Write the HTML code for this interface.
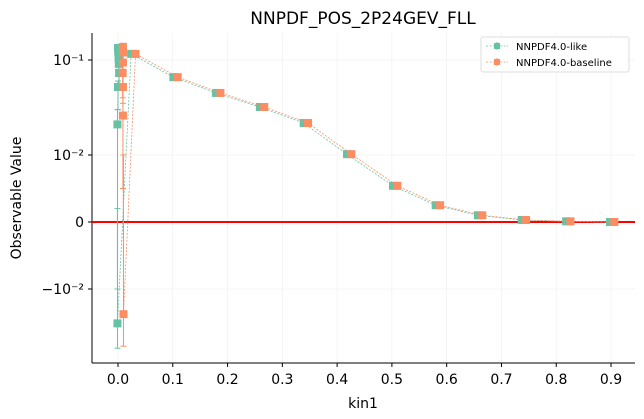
<!DOCTYPE html>
<html><head><meta charset="utf-8"><style>
body{margin:0;background:#fff;}
svg{display:block;font-family:"DejaVu Sans","Liberation Sans",sans-serif;}
</style></head><body>
<svg id="chart" width="644" height="419">
<text x="363" y="24" font-size="17" text-anchor="middle">NNPDF_POS_2P24GEV_FLL</text>
<g id="grid"></g><g id="axes"></g><g id="series"></g>
<text x="363" y="408" font-size="14" text-anchor="middle">kin1</text>
<text transform="translate(21,198) rotate(-90)" font-size="14" text-anchor="middle">Observable Value</text>
<g>
<rect x="481" y="37" width="148" height="35" fill="#fff" stroke="#ddd" rx="2"/>
<g>
<line x1="486" y1="46" x2="508" y2="46" stroke="#66c2a5" stroke-dasharray="2,1.5" stroke-width="0.8"/>
<line x1="497" y1="42" x2="497" y2="50" stroke="#66c2a5"/><rect x="494" y="43" width="6" height="6" fill="#66c2a5"/>
<text x="516" y="50" font-size="10">NNPDF4.0-like</text></g>
<g>
<line x1="486" y1="62" x2="508" y2="62" stroke="#fc8d62" stroke-dasharray="2,1.5" stroke-width="0.8"/>
<line x1="497" y1="58" x2="497" y2="66" stroke="#fc8d62"/><rect x="494" y="59" width="6" height="6" fill="#fc8d62"/>
<text x="516" y="66" font-size="10">NNPDF4.0-baseline</text></g>
</g>
</svg>
<script>
const likeX=[0.0,0.0005,0.001,0.0015,0.002,0.0,-0.001,-0.001,0.024,0.101,0.179,0.259,0.339,0.418,0.502,0.580,0.657,0.737,0.818,0.898];
const likeY=[0.134,0.121,0.105,0.091,0.073,0.052,0.021,-0.023,0.116,0.066,0.045,0.032,0.0217,0.0102,0.0054,0.0025,0.001,0.0003,0.0001,0.0];
const likeLo=[0.12,0.11,0.09,0.07,0.05,0.03,-0.01,-0.042,0.11,0.064,0.044,0.031,0.021,0.0099,0.0053,0.0024,0.001,0.0003,0.0001,0.0];
const likeHi=[0.14,0.13,0.11,0.1,0.08,0.06,0.03,0.002,0.12,0.068,0.046,0.033,0.022,0.0105,0.0055,0.0026,0.001,0.0003,0.0001,0.0];
const baseX=[0.009,0.0095,0.009,0.0085,0.009,0.009,0.01,0.032,0.109,0.187,0.267,0.347,0.426,0.510,0.588,0.665,0.745,0.826,0.906];
const baseY=[0.137,0.12,0.094,0.073,0.052,0.026,-0.0184,0.116,0.066,0.045,0.032,0.0217,0.0102,0.0054,0.0025,0.001,0.0003,0.0001,0.0];
const baseLo=[0.125,0.1,0.07,0.04,0.035,0.005,-0.04,0.11,0.064,0.044,0.031,0.021,0.0099,0.0053,0.0024,0.001,0.0003,0.0001,0.0];
const baseHi=[0.15,0.14,0.12,0.09,0.08,0.05,0.01,0.12,0.068,0.046,0.033,0.022,0.0105,0.0055,0.0026,0.001,0.0003,0.0001,0.0];
const xTicks=[0,0.1,0.2,0.3,0.4,0.5,0.6,0.7,0.8,0.9];
const yTicks=[0.1,0.01,0,-0.01];
const yTickLabels=["10\u207B\u00B9","10\u207B\u00B2","0","\u221210\u207B\u00B2"];
const NS="http://www.w3.org/2000/svg";
function X(v){return 118+v*547.8;}
function Y(v){const a=Math.abs(v),s=Math.sign(v);
 if(a<=0.01)return 222-v/0.01*67;
 return 222-s*(67+Math.log10(a/0.01)*95);}
function mk(p,tag,at){const e=document.createElementNS(NS,tag);for(const k in at)e.setAttribute(k,at[k]);p.appendChild(e);return e;}
const grid=document.getElementById('grid'),axes=document.getElementById('axes'),ser=document.getElementById('series');
xTicks.forEach(t=>{
 const g=mk(grid,'line',{x1:X(t),x2:X(t),y1:33,y2:363,stroke:'#eee','stroke-width':0.6});
 
 
 mk(axes,'line',{x1:X(t),x2:X(t),y1:363,y2:367,stroke:'#000'});
 const tx=mk(axes,'text',{x:X(t),y:384,'font-size':14,'text-anchor':'middle'});tx.textContent=t.toFixed(1);
 
 
});
yTicks.forEach((t,i)=>{
 mk(grid,'line',{x1:92,x2:635,y1:Y(t),y2:Y(t),stroke:'#eee','stroke-width':0.6});
 mk(axes,'line',{x1:88,x2:92,y1:Y(t),y2:Y(t),stroke:'#000'});
 const tx=mk(axes,'text',{x:84,y:Y(t)+5,'font-size':14,'text-anchor':'end'});tx.textContent=yTickLabels[i];
 
 
});
mk(axes,'line',{x1:92,x2:92,y1:33,y2:363,stroke:'#000','stroke-width':1});
mk(axes,'line',{x1:92,x2:635,y1:363,y2:363,stroke:'#000','stroke-width':1});
const zl=mk(axes,'line',{x1:92,x2:635,y1:Y(0),y2:Y(0),stroke:'#f00','stroke-width':2});


function series(xs,ys,lo,hi,col,name){
 const g=mk(ser,'g',{});
 
 
 const d=xs.map((x,i)=>(i?'L':'M')+X(x)+','+Y(ys[i])).join(' ');
 mk(g,'path',{d:d,fill:'none',stroke:col,'stroke-width':0.8,'stroke-dasharray':'2,1.5'});
 xs.forEach((x,i)=>{
  mk(g,'line',{x1:X(x),x2:X(x),y1:Y(lo[i]),y2:Y(hi[i]),stroke:col,'stroke-width':1});
  mk(g,'line',{x1:X(x)-3,x2:X(x)+3,y1:Y(lo[i]),y2:Y(lo[i]),stroke:col});
  mk(g,'line',{x1:X(x)-3,x2:X(x)+3,y1:Y(hi[i]),y2:Y(hi[i]),stroke:col});
  const r=mk(g,'rect',{x:X(x)-4,y:Y(ys[i])-4,width:8,height:8,fill:col});
  
  
 });
}
series(likeX,likeY,likeLo,likeHi,'#66c2a5','series-nnpdf40-like');
series(baseX,baseY,baseLo,baseHi,'#fc8d62','series-nnpdf40-baseline');
</script>
</body></html>
